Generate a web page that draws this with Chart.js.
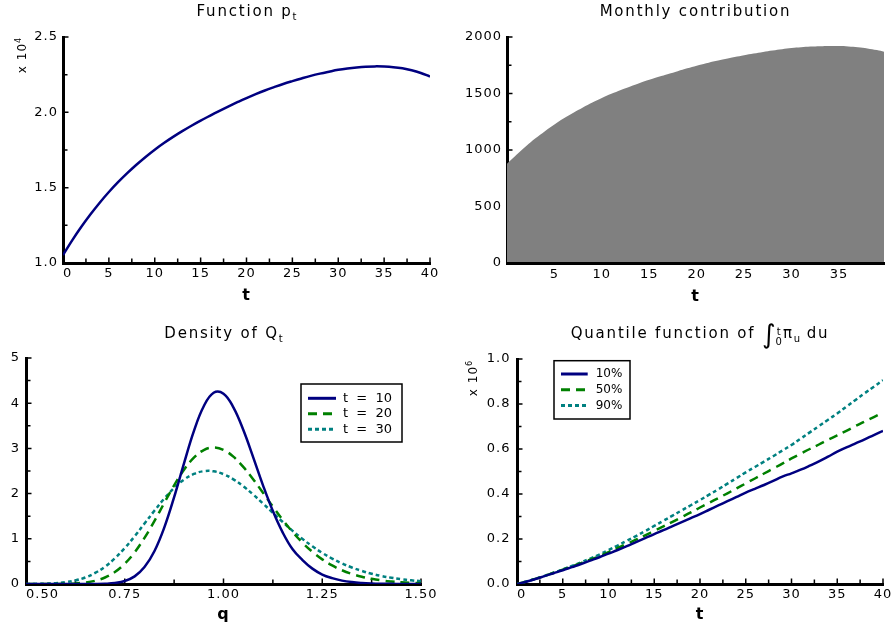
<!DOCTYPE html>
<html lang="en">
<head>
<meta charset="utf-8">
<title>Contribution model</title>
<script src="https://cdn.jsdelivr.net/npm/chart.js@4.4.1/dist/chart.umd.min.js"></script>
<style>
  body { margin: 0; background: #fff; }
  #panel { position: relative; width: 893px; height: 626px; overflow: hidden; font-family: 'DejaVu Sans', sans-serif; color: #000; }
  #panel canvas { position: absolute; }
  .title { position: absolute; text-align: center; font-size: 15px; line-height: 15px; letter-spacing: 1.8px; white-space: nowrap; }
  .title sub { font-size: 10px; line-height: 0; vertical-align: -4px; letter-spacing: 0; }
  .title .int { font-size: 26px; line-height: 0; vertical-align: -5px; letter-spacing: 0; }
  .title .lim { display: inline-block; font-size: 10px; line-height: 10px; vertical-align: -7px; letter-spacing: 0; margin-right: 1px; }
  .title .lim span { display: block; }
  .scale { position: absolute; width: 50px; height: 14px; font-size: 12px; line-height: 14px; letter-spacing: 1px; text-align: center; transform: rotate(-90deg); white-space: nowrap; }
  .scale sup { font-size: 8px; line-height: 0; vertical-align: 5px; }
</style>
</head>
<body>
<div id="panel">
  <canvas id="pt-chart" width="446" height="310" style="left:0;top:0"></canvas>
  <canvas id="contribution-chart" width="447" height="310" style="left:446px;top:0"></canvas>
  <canvas id="density-chart" width="446" height="316" style="left:0;top:310px"></canvas>
  <canvas id="quantile-chart" width="447" height="316" style="left:446px;top:310px"></canvas>

  <div class="title" style="left:63px;top:4px;width:367px">Function p<sub>t</sub></div>
  <div class="title" style="left:507px;top:4px;width:377px">Monthly contribution</div>
  <div class="title" style="left:26px;top:326px;width:395px">Density of Q<sub>t</sub></div>
  <div class="title" style="left:517px;top:326px;width:366px">Quantile function of <span class="int">∫</span><span class="lim"><span>t</span><span>0</span></span>π<sub>u</sub> du</div>

  <div class="scale" style="left:-3px;top:48px">x 10<sup>4</sup></div>
  <div class="scale" style="left:448px;top:371px">x 10<sup>6</sup></div>
</div>

<script>
// years of the contribution period
const years = [0, 1, 2, 3, 4, 5, 6, 7, 8, 9, 10, 11, 12, 13, 14, 15, 16, 17, 18, 19, 20,
    21, 22, 23, 24, 25, 26, 27, 28, 29, 30, 31, 32, 33, 34, 35, 36, 37, 38, 39, 40];

// p_t, in units of 10^4
const pT = [1.053, 1.150, 1.240, 1.323, 1.400, 1.471, 1.536, 1.596, 1.652, 1.704, 1.752,
    1.796, 1.837, 1.875, 1.911, 1.945, 1.977, 2.008, 2.038, 2.067, 2.095,
    2.121, 2.145, 2.167, 2.188, 2.207, 2.225, 2.242, 2.257, 2.270, 2.282,
    2.291, 2.298, 2.303, 2.305, 2.304, 2.300, 2.292, 2.279, 2.261, 2.238];

// monthly contribution
const contribution = [878, 958, 1033, 1103, 1167, 1226, 1280, 1330, 1377, 1420, 1460,
    1497, 1531, 1563, 1593, 1621, 1648, 1673, 1698, 1723, 1746,
    1768, 1788, 1806, 1823, 1839, 1854, 1868, 1881, 1892, 1902,
    1909, 1915, 1919, 1921, 1920, 1917, 1910, 1899, 1884, 1865];

// grid of q for the densities
const qGrid = [0.500, 0.525, 0.550, 0.575, 0.600, 0.625, 0.650, 0.675, 0.700, 0.725,
    0.750, 0.775, 0.800, 0.825, 0.850, 0.875, 0.900, 0.925, 0.950, 0.975,
    1.000, 1.025, 1.050, 1.075, 1.100, 1.125, 1.150, 1.175, 1.200, 1.225,
    1.250, 1.275, 1.300, 1.325, 1.350, 1.375, 1.400, 1.425, 1.450, 1.475, 1.500];

const densityT10 = [0, 0, 0, 0, 0, 0, 0, 0.001, 0.006, 0.022,
    0.066, 0.169, 0.374, 0.725, 1.248, 1.922, 2.671, 3.384, 3.933, 4.230,
    4.210, 3.908, 3.411, 2.807, 2.183, 1.615, 1.138, 0.768, 0.530, 0.340,
    0.210, 0.130, 0.075, 0.042, 0.023, 0.012, 0.006, 0.003, 0.001, 0, 0];

const densityT20 = [0, 0, 0, 0.001, 0.004, 0.013, 0.032, 0.071, 0.144, 0.265,
    0.448, 0.700, 1.021, 1.392, 1.792, 2.182, 2.527, 2.795, 2.964, 3.019,
    2.966, 2.817, 2.592, 2.318, 2.018, 1.711, 1.418, 1.150, 0.914, 0.712,
    0.545, 0.411, 0.304, 0.222, 0.160, 0.114, 0.080, 0.056, 0.038, 0.026, 0.018];

const densityT30 = [0.001, 0.003, 0.008, 0.018, 0.040, 0.079, 0.144, 0.244, 0.384, 0.568,
    0.795, 1.055, 1.337, 1.620, 1.889, 2.125, 2.310, 2.435, 2.496, 2.493,
    2.430, 2.316, 2.161, 1.979, 1.780, 1.575, 1.371, 1.176, 0.997, 0.833,
    0.689, 0.563, 0.456, 0.365, 0.290, 0.228, 0.178, 0.138, 0.106, 0.081, 0.062];

// quantiles of the integral, in units of 10^6
const quantile10 = [0, 0.010, 0.022, 0.035, 0.048, 0.061, 0.075, 0.089, 0.104, 0.119, 0.135,
    0.151, 0.168, 0.186, 0.204, 0.222, 0.239, 0.257, 0.275, 0.293, 0.311,
    0.330, 0.349, 0.368, 0.387, 0.406, 0.423, 0.440, 0.458, 0.477, 0.492,
    0.508, 0.526, 0.545, 0.566, 0.588, 0.607, 0.625, 0.643, 0.662, 0.680];

const quantile50 = [0, 0.011, 0.023, 0.036, 0.050, 0.064, 0.078, 0.093, 0.108, 0.124, 0.142,
    0.160, 0.178, 0.197, 0.216, 0.236, 0.256, 0.276, 0.297, 0.318, 0.340,
    0.361, 0.382, 0.403, 0.425, 0.447, 0.469, 0.491, 0.513, 0.535, 0.558,
    0.579, 0.600, 0.620, 0.641, 0.661, 0.681, 0.702, 0.722, 0.742, 0.762];

const quantile90 = [0, 0.011, 0.023, 0.036, 0.050, 0.065, 0.080, 0.096, 0.113, 0.131, 0.151,
    0.171, 0.192, 0.213, 0.235, 0.258, 0.281, 0.304, 0.327, 0.350, 0.373,
    0.397, 0.421, 0.446, 0.471, 0.496, 0.520, 0.544, 0.568, 0.593, 0.618,
    0.646, 0.674, 0.702, 0.730, 0.758, 0.788, 0.818, 0.848, 0.877, 0.906];

const navy = '#000080';
const green = '#008000';
const teal = '#008080';

Chart.defaults.font.family = "'DejaVu Sans', sans-serif";
Chart.defaults.font.size = 13;
Chart.defaults.color = '#000';
Chart.defaults.animation = false;

const toPoints = (xs, ys) => xs.map((x, i) => ({ x, y: ys[i] }));

// spaced-out tick labels
const spacing = {
    id: 'spacing',
    beforeDraw(chart) {
        chart.ctx.letterSpacing = '1px';
    }
};

// small tick marks pointing into the plot, major and minor
const innerTicks = {
    id: 'innerTicks',
    beforeDatasetsDraw(chart, args, opts) {
        const { ctx, chartArea: a, scales: { x, y } } = chart;
        const isMajor = (v, major) => Math.abs(v / major - Math.round(v / major)) < 1e-6;
        ctx.save();
        ctx.strokeStyle = '#000';
        ctx.lineWidth = 1.5;
        ctx.beginPath();
        for (let i = 0; x.min + i * opts.xStep <= x.max + 1e-9; i++) {
            const v = x.min + i * opts.xStep;
            const px = x.getPixelForValue(v);
            ctx.moveTo(px, a.bottom);
            ctx.lineTo(px, a.bottom - (isMajor(v, opts.xMajor) ? 5.5 : 4.5));
        }
        for (let i = 0; y.min + i * opts.yStep <= y.max + 1e-9; i++) {
            const v = y.min + i * opts.yStep;
            const py = y.getPixelForValue(v);
            ctx.moveTo(a.left, py);
            ctx.lineTo(a.left + (isMajor(v, opts.yMajor) ? 5.5 : 4.5), py);
        }
        ctx.stroke();
        ctx.restore();
    }
};

// framed legend placed inside the plot area
const boxLegend = {
    id: 'boxLegend',
    afterDatasetsDraw(chart, args, opts) {
        const { ctx, chartArea: a } = chart;
        const bx = a.left + opts.dx;
        const by = a.top + opts.dy;
        ctx.save();
        ctx.letterSpacing = '0px';
        ctx.fillStyle = '#fff';
        ctx.fillRect(bx, by, opts.w, opts.h);
        ctx.strokeStyle = '#000';
        ctx.lineWidth = 1.5;
        ctx.strokeRect(bx, by, opts.w, opts.h);
        ctx.font = opts.font;
        ctx.textBaseline = 'middle';
        chart.data.datasets.forEach((ds, i) => {
            const ry = by + opts.rowTop + i * opts.rowGap;
            ctx.strokeStyle = ds.borderColor;
            ctx.lineWidth = 3;
            ctx.setLineDash(ds.borderDash || []);
            ctx.beginPath();
            ctx.moveTo(bx + opts.sx0, ry);
            ctx.lineTo(bx + opts.sx1, ry);
            ctx.stroke();
            ctx.setLineDash([]);
            ctx.fillStyle = '#000';
            ctx.fillText(ds.label, bx + opts.tx, ry);
        });
        ctx.restore();
    }
};

const bottomAxis = (o) => ({
    type: 'linear',
    min: o.min,
    max: o.max,
    grid: { display: false, drawTicks: false },
    border: { color: '#000', width: 3, z: o.borderZ || 0 },
    ticks: { stepSize: o.step, autoSkip: false, maxRotation: 0, includeBounds: false, padding: o.labelPad, callback: o.label },
    title: { display: true, text: o.title, font: { size: 16, weight: 'bold' }, padding: { top: 0, bottom: o.titlePad } },
    afterFit: (s) => {
        s.height = o.height;
        s.paddingLeft = 0;
        s.paddingRight = 0;
    }
});

const leftAxis = (o) => ({
    type: 'linear',
    min: o.min,
    max: o.max,
    grid: { display: false, drawTicks: false },
    border: { color: '#000', width: 3 },
    ticks: { stepSize: o.step, autoSkip: false, padding: o.labelPad, callback: o.label },
    afterFit: (s) => {
        s.width = o.width;
        s.paddingTop = 0;
        s.paddingBottom = 0;
    }
});

const baseOptions = (padding, plugins, scales) => ({
    responsive: false,
    devicePixelRatio: 1,
    events: [],
    layout: { padding },
    plugins: Object.assign({ legend: { display: false }, tooltip: { enabled: false } }, plugins),
    scales
});

const lineSet = (label, data, color, dash) => ({
    label,
    data,
    borderColor: color,
    borderWidth: 2.5,
    borderDash: dash,
    pointRadius: 0,
    fill: false,
    tension: 0.4
});

// Function p_t
new Chart(document.getElementById('pt-chart'), {
    type: 'line',
    data: { datasets: [lineSet('p', toPoints(years, pT), navy, [])] },
    options: baseOptions({ top: 37, right: 16, left: 0, bottom: 0 },
        { innerTicks: { xStep: 2.5, xMajor: 5, yStep: 0.25, yMajor: 0.5 } },
        {
            x: bottomAxis({ min: 0, max: 40, step: 5, height: 47, labelPad: 3, title: 't', titlePad: 5,
                label: (v, i) => i === 0 ? '\u2007' + v : String(v) }),
            y: leftAxis({ min: 1, max: 2.5, step: 0.5, width: 63, labelPad: 5, label: (v) => v.toFixed(1) })
        }),
    plugins: [spacing, innerTicks]
});

// Monthly contribution, filled down to zero
new Chart(document.getElementById('contribution-chart'), {
    type: 'line',
    data: {
        datasets: [{
            label: 'contribution',
            data: toPoints(years, contribution),
            borderWidth: 0,
            pointRadius: 0,
            tension: 0.4,
            backgroundColor: '#808080',
            fill: 'origin'
        }]
    },
    options: baseOptions({ top: 37, right: 9, left: 0, bottom: 0 },
        { innerTicks: { xStep: 2.5, xMajor: 5, yStep: 250, yMajor: 500 } },
        {
            x: bottomAxis({ min: 0, max: 39.75, step: 5, height: 47, labelPad: 4, title: 't', titlePad: 4, borderZ: 1,
                label: (v) => v === 0 ? '' : String(v) }),
            y: leftAxis({ min: 0, max: 2000, step: 500, width: 61, labelPad: 5, label: (v) => String(v) })
        }),
    plugins: [spacing, innerTicks]
});

// Density of Q_t for three horizons
new Chart(document.getElementById('density-chart'), {
    type: 'line',
    data: {
        datasets: [
            lineSet('t  =  10', toPoints(qGrid, densityT10), navy, []),
            lineSet('t  =  20', toPoints(qGrid, densityT20), green, [9, 6]),
            lineSet('t  =  30', toPoints(qGrid, densityT30), teal, [4, 3])
        ]
    },
    options: baseOptions({ top: 48, right: 25, left: 0, bottom: 0 },
        {
            innerTicks: { xStep: 0.125, xMajor: 0.25, yStep: 0.5, yMajor: 1 },
            boxLegend: { dx: 275, dy: 26, w: 101, h: 58, rowTop: 14.3, rowGap: 15.5, sx0: 7, sx1: 35, tx: 42, font: "13px 'DejaVu Sans', sans-serif" }
        },
        {
            x: bottomAxis({ min: 0.5, max: 1.5, step: 0.25, height: 42, labelPad: 3, title: 'q', titlePad: 1.4,
                label: (v, i) => i === 0 ? '\u2007\u2008\u2007\u2007' + v.toFixed(2) : v.toFixed(2) }),
            y: leftAxis({ min: 0, max: 5, step: 1, width: 26, labelPad: 6, label: (v) => String(v) })
        }),
    plugins: [spacing, innerTicks, boxLegend]
});

// Quantile function of the integral
new Chart(document.getElementById('quantile-chart'), {
    type: 'line',
    data: {
        datasets: [
            lineSet('10%', toPoints(years, quantile10), navy, []),
            lineSet('50%', toPoints(years, quantile50), green, [9, 6]),
            lineSet('90%', toPoints(years, quantile90), teal, [4, 3])
        ]
    },
    options: baseOptions({ top: 49, right: 10, left: 0, bottom: 0 },
        {
            innerTicks: { xStep: 2.5, xMajor: 5, yStep: 0.1, yMajor: 0.2 },
            boxLegend: { dx: 37, dy: 1.7, w: 76, h: 58.3, rowTop: 13.3, rowGap: 15.8, sx0: 7, sx1: 33.7, tx: 41.7, font: "12px 'DejaVu Sans', sans-serif" }
        },
        {
            x: bottomAxis({ min: 0, max: 40, step: 5, height: 42, labelPad: 3, title: 't', titlePad: 1.4,
                label: (v, i) => i === 0 ? '\u2007' + v : String(v) }),
            y: leftAxis({ min: 0, max: 1, step: 0.2, width: 71, labelPad: 6.5, label: (v) => v.toFixed(1) })
        }),
    plugins: [spacing, innerTicks, boxLegend]
});
</script>
</body>
</html>
